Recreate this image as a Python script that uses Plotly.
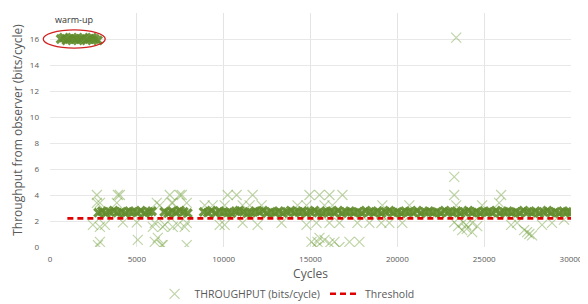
import plotly.graph_objects as go

# ---- data ----
warm_x = [620, 790, 950, 1110, 1280, 1440, 1600, 1770, 1930, 2100, 2260, 2420, 2590, 2760]
warm_y = [16.0, 16.1, 15.9, 16.0, 16.1, 16.0, 15.9, 16.0, 16.1, 15.9, 16.0, 16.1, 16.0, 15.9]

band_x = [2780, 2990, 3220, 3440, 3660, 3890, 4110, 4330, 4560, 4780, 5010, 5230, 5460, 5680, 5870,
          6580, 6800, 7030, 7250, 7480, 7700, 7930,
          8850, 9090, 9300, 9540, 9760, 10010, 10230, 10450, 10690, 10910, 11140, 11370, 11590, 11820,
          12050, 12270, 12500, 12730, 12950, 13180, 13410, 13640, 13860, 14090, 14320, 14540, 14770,
          15000, 15230, 15450, 15680, 15910, 16140, 16360, 16590, 16820, 17040, 17270, 17500, 17730,
          17950, 18180, 18410, 18640, 18860, 19090, 19320, 19550, 19770, 20000, 20230, 20450, 20680,
          20910, 21140, 21360, 21590, 21820, 22050, 22270, 22500, 22730, 22950, 23180, 23410, 23640,
          23860, 24090, 24320, 24550, 24770, 25000, 25230, 25450, 25680, 25910, 26140, 26360, 26590,
          26820, 27050, 27270, 27500, 27730, 27950, 28180, 28410, 28640, 28860, 29090, 29320, 29550,
          29770, 29980]
band_y = [2.65, 2.75, 2.6, 2.7, 2.8, 2.65, 2.7, 2.6, 2.75, 2.7, 2.65, 2.8, 2.6, 2.7, 2.75,
          2.7, 2.6, 2.75, 2.65, 2.8, 2.7, 2.6,
          2.7, 2.65, 2.8, 2.6, 2.75, 2.7, 2.65, 2.6, 2.75, 2.8, 2.7, 2.6, 2.65, 2.75,
          2.7, 2.8, 2.6, 2.7, 2.65, 2.75, 2.6, 2.7, 2.8, 2.65, 2.7, 2.75, 2.6,
          2.7, 2.8, 2.65, 2.6, 2.75, 2.7, 2.65, 2.8, 2.6, 2.7, 2.75, 2.65, 2.7,
          2.6, 2.8, 2.7, 2.65, 2.75, 2.6, 2.7, 2.8, 2.65, 2.7, 2.6, 2.75, 2.7,
          2.65, 2.8, 2.6, 2.7, 2.75, 2.65, 2.7, 2.6, 2.8, 2.7, 2.65, 2.75, 2.6,
          2.7, 2.8, 2.65, 2.7, 2.6, 2.75, 2.7, 2.65, 2.8, 2.6, 2.7, 2.75, 2.65,
          2.7, 2.6, 2.8, 2.7, 2.65, 2.75, 2.6, 2.7, 2.8, 2.65, 2.7, 2.6, 2.75,
          2.7, 2.65]

out_x = [2701, 3908, 2701, 3851, 2874, 2759, 5057, 6896, 7586, 6149, 5920, 6494, 6207, 6494, 7874,
         7069, 7758, 7069, 4023, 7471, 2874, 6322, 7011, 7874, 2471, 3161, 4195, 5000, 6034, 6609,
         7356, 7874, 2874, 6034, 6437, 8908,
         10230, 10747, 11667, 14942, 15517, 9368, 10057, 11092, 11494, 12184, 14253, 14770, 9770,
         10057, 11092, 11954, 13333, 14770, 15345, 15057, 15402, 15345, 15517, 15804, 16092,
         16092, 16839, 15804, 16264, 19138, 20690, 16092, 16667, 17701, 18391, 19080, 19540, 20287,
         16379, 17241, 17816, 16667,
         23276, 23391, 23276, 25977, 23391, 24885, 25862, 23276, 23966, 24310, 23736, 24310, 26552,
         26897, 27471, 27759, 28333, 28908, 29598, 23500, 24000, 24600, 23800, 27300, 27600]
out_y = [4.0, 4.0, 3.4, 3.4, 1.55, 0.15, 0.55, 4.0, 4.0, 3.4, 1.55, 1.55, 0.7, 0.15, 0.15,
         1.55, 1.55, 3.4, 4.0, 4.0, 3.4, 3.2, 3.4, 3.4, 1.7, 1.7, 1.9, 1.9, 1.85, 1.7,
         1.7, 1.85, 0.4, 0.4, 0.15, 3.2,
         4.0, 4.0, 4.0, 4.0, 4.0, 3.2, 3.2, 3.2, 3.2, 3.2, 3.2, 3.2, 1.7,
         1.7, 1.85, 1.7, 1.85, 1.7, 1.85, 0.4, 0.4, 0.0, 0.7, 0.55, 0.3,
         4.0, 4.0, 3.2, 3.2, 3.2, 3.2, 1.85, 1.85, 1.85, 1.85, 1.85, 1.85, 1.85,
         0.4, 0.4, 0.4, 0.0,
         5.4, 16.1, 4.0, 4.0, 3.2, 3.2, 3.4, 1.9, 1.7, 1.85, 1.3, 1.15, 1.7,
         1.85, 1.15, 0.9, 1.7, 1.85, 2.1, 1.6, 1.4, 1.6, 1.9, 1.3, 1.0]

thr_x = [1000, 30000]
thr_y = [2.2, 2.2]

x_ticks = [0, 5000, 10000, 15000, 20000, 25000, 30000]
y_ticks = [0, 2, 4, 6, 8, 10, 12, 14, 16, 18]

GREEN = "rgba(112,160,60,0.45)"
GREEN_D = "rgba(98,140,44,0.9)"
FONT = "Open Sans"

fig = go.Figure()

fig.add_trace(go.Scatter(
    x=out_x, y=out_y, mode="markers", name="THROUGHPUT (bits/cycle)", legendrank=1,
    marker=dict(symbol="x-thin-open", size=10, color=GREEN, line=dict(color=GREEN, width=1.2)),
    hoverinfo="skip"))
fig.add_trace(go.Scatter(
    x=band_x, y=band_y, mode="markers", showlegend=False,
    marker=dict(symbol="x-thin-open", size=8, color=GREEN_D, line=dict(color=GREEN_D, width=3.2)),
    hoverinfo="skip"))
fig.add_trace(go.Scatter(
    x=warm_x, y=warm_y, mode="markers", showlegend=False,
    marker=dict(symbol="x-thin-open", size=8, color=GREEN_D, line=dict(color=GREEN_D, width=3.2))))
fig.add_trace(go.Scatter(
    x=thr_x, y=thr_y, mode="lines", name="Threshold", legendrank=2,
    line=dict(color="#e00000", width=2.6, dash="6px,4px")))

fig.add_shape(type="circle", xref="paper", yref="paper",
              x0=-0.013, x1=0.106, y0=0.85, y1=0.928,
              line=dict(color="#d02020", width=1.3))
fig.add_annotation(x=1380, y=17.5, xref="x", yref="y", text="warm-up", showarrow=False,
                   font=dict(family=FONT, size=9, color="#333333"), yanchor="middle")

# the page body has an 8px margin, so the figure is offset by 8px
fig.update_layout(
    width=580, height=296,
    margin=dict(l=42, r=17, t=5, b=57, autoexpand=False),
    paper_bgcolor="white", plot_bgcolor="white",
    font=dict(family=FONT, color="#595959"),
    legend=dict(orientation="h", x=0.455, xanchor="center", y=-0.2, yanchor="middle",
                font=dict(size=10.5, color="#595959"), itemwidth=30, tracegroupgap=0),
)
fig.update_xaxes(range=[0, 30000], tickvals=x_ticks, ticktext=[str(v) for v in x_ticks],
                 showgrid=True, gridcolor="#e4e4e4", gridwidth=1, zeroline=False,
                 showline=False, tickfont=dict(size=8, color="#595959"),
                 ticklabeloverflow="allow", automargin=False, ticklabelstandoff=6,
                 title=dict(text="Cycles", font=dict(size=12, color="#595959"), standoff=6))
fig.update_yaxes(range=[0, 18], tickvals=y_ticks, ticktext=[str(v) for v in y_ticks],
                 showgrid=True, gridcolor="#e8e8e8", gridwidth=1, zeroline=False,
                 showline=False, tickfont=dict(size=8, color="#595959"), automargin=False,
                 ticklabelstandoff=10,
                 title=dict(text="Throughput from observer (bits/cycle)",
                            font=dict(size=12, color="#595959"), standoff=4))

fig.write_html("out.html")
